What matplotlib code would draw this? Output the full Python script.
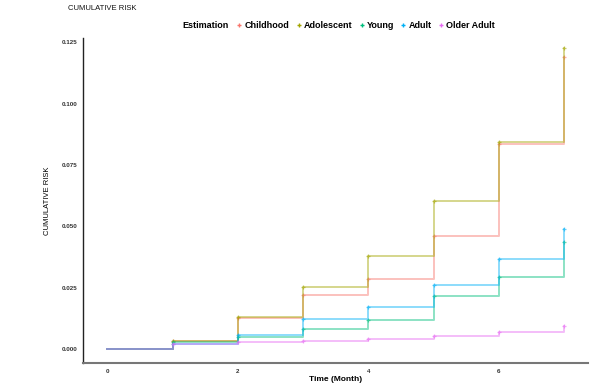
import matplotlib.pyplot as plt
from matplotlib.lines import Line2D

plt.rcParams["font.family"] = ["Liberation Sans", "DejaVu Sans"]

months = [0, 1, 2, 3, 4, 5, 6, 7]
groups = ["Childhood", "Adolescent", "Young", "Adult", "Older Adult"]
colors = ["#F8766D", "#A3A500", "#00BF7D", "#00B0F6", "#E76BF3"]

childhood = [0, 0.0033, 0.0125, 0.0219, 0.0285, 0.0460, 0.0835, 0.1192]
adolescent = [0, 0.0034, 0.0129, 0.0251, 0.0379, 0.0603, 0.0843, 0.1227]
young = [0, 0.0028, 0.0051, 0.0081, 0.0119, 0.0216, 0.0294, 0.0436]
adult = [0, 0.0021, 0.0057, 0.0122, 0.0171, 0.0260, 0.0365, 0.0490]
older_adult = [0, 0.0021, 0.0027, 0.0033, 0.0039, 0.0053, 0.0068, 0.0095]
series = [childhood, adolescent, young, adult, older_adult]

yticks = [0.0, 0.025, 0.05, 0.075, 0.1, 0.125]
xticks = [0, 2, 4, 6]

fig = plt.figure(figsize=(6.11, 3.92), dpi=100)
ax = fig.add_axes([0.136, 0.074, 0.826, 0.829])

for values, color in zip(series, colors):
    ax.plot(months, values, drawstyle="steps-post", color=color, lw=1.4, alpha=0.45)
    ax.plot(months[1:], values[1:], ls="none", marker="+", ms=2.5, mew=0.9,
            color=color, alpha=0.6)

ax.set_xlim(-0.37, 7.36)
ax.set_ylim(-0.0057, 0.1268)
ax.set_xticks(xticks)
ax.set_yticks(yticks)
ax.set_xticklabels([str(t) for t in xticks])
ax.set_yticklabels([f"{t:.3f}" for t in yticks])
ax.tick_params(length=0, labelsize=4.5, labelcolor="#333333", pad=4)
for label in ax.get_xticklabels() + ax.get_yticklabels():
    label.set_fontweight("bold")

for side in ["top", "right"]:
    ax.spines[side].set_visible(False)
ax.spines["left"].set_color("#222222")
ax.spines["left"].set_linewidth(1.0)
ax.spines["bottom"].set_color("#777777")
ax.spines["bottom"].set_linewidth(1.5)

ax.set_xlabel("Time (Month)", fontsize=6, fontweight="bold", labelpad=2)
ax.set_ylabel("CUMULATIVE RISK", fontsize=5.5, labelpad=8)

fig.text(0.111, 0.978, "CUMULATIVE RISK", fontsize=5.5, va="center", color="#111111")
fig.text(0.299, 0.934, "Estimation", fontsize=6.5, fontweight="bold", va="center")

handles = [Line2D([], [], ls="none", marker="+", ms=3, mew=1, color=c) for c in colors]
leg = fig.legend(handles, groups, loc="center left", bbox_to_anchor=(0.388, 0.934),
                 ncol=5, frameon=False, handlelength=0.5, handletextpad=0.3,
                 columnspacing=0.8, borderpad=0, borderaxespad=0,
                 prop={"size": 6.5, "weight": "bold"})

fig.savefig("out.png", dpi=100)
